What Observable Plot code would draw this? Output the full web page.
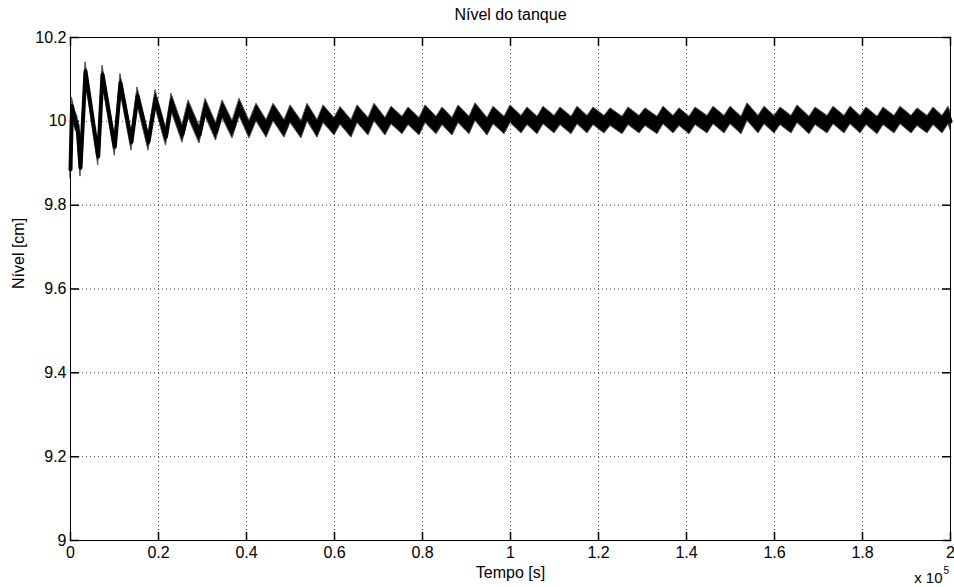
<!DOCTYPE html>
<html><head><meta charset="utf-8">
<script src="https://cdn.jsdelivr.net/npm/d3@7"></script>
<script src="https://cdn.jsdelivr.net/npm/@observablehq/plot@0.6"></script>
<style>body{margin:0;background:#fff} svg{display:block}</style>
</head><body><div id="chart"></div>
<script>
const title = "Nível do tanque";
const xLabel = "Tempo [s]";
const yLabel = "Nível [cm]";
const xExponent = "x 10";
const xExponentPower = "5";
const xTicks = [0, 20000, 40000, 60000, 80000, 100000, 120000, 140000, 160000, 180000, 200000];
const xTickLabels = ["0", "0.2", "0.4", "0.6", "0.8", "1", "1.2", "1.4", "1.6", "1.8", "2"];
const yTicks = [9, 9.2, 9.4, 9.6, 9.8, 10, 10.2];
const yTickLabels = ["9", "9.2", "9.4", "9.6", "9.8", "10", "10.2"];

// mid-level of the noisy trace (s, cm): start of the run
const startTime = [0, 340, 910, 1590];
const startLevel = [9.885, 10.036, 10.007, 9.990];
// local minima of the slow oscillation (s, cm)
const troughTime = [2270, 6300, 10070, 13860, 17730, 21700, 25450, 29320, 33070, 36820, 40680, 44550, 48640, 52500, 56140, 60000, 63860, 67730, 71590, 75450, 79320, 83180, 86820, 90680, 94770, 98640, 102500, 106140, 110000, 113860, 117500, 121360, 125450, 129320, 133410, 137050, 140680, 144770, 148640, 152500, 156360, 160000, 163860, 167950, 172050, 175910, 179550, 183410, 187270, 191140, 194770, 198180];
const troughLevel = [9.889, 9.916, 9.939, 9.951, 9.951, 9.963, 9.970, 9.968, 9.975, 9.980, 9.980, 9.982, 9.982, 9.980, 9.982, 9.987, 9.982, 9.987, 9.987, 9.990, 9.987, 9.990, 9.987, 9.990, 9.987, 9.990, 9.992, 9.990, 9.992, 9.990, 9.992, 9.992, 9.990, 9.992, 9.990, 9.992, 9.990, 9.992, 9.992, 9.990, 9.992, 9.992, 9.992, 9.990, 9.992, 9.992, 9.992, 9.990, 9.992, 9.992, 9.992, 9.992];
// local maxima of the slow oscillation (s, cm)
const peakTime = [3410, 7270, 11360, 15230, 19320, 22950, 26820, 30680, 34550, 38410, 42270, 46140, 50000, 53860, 57500, 61360, 65230, 69090, 72950, 76820, 80680, 84550, 88180, 92050, 96140, 100000, 103860, 107500, 111360, 115230, 118860, 122730, 126820, 130680, 134770, 138410, 142050, 146140, 150000, 153860, 157730, 161360, 165230, 169320, 173410, 177270, 180910, 184770, 188640, 192500, 196140, 199550];
const peakLevel = [10.120, 10.112, 10.092, 10.060, 10.053, 10.045, 10.029, 10.033, 10.029, 10.033, 10.021, 10.021, 10.017, 10.021, 10.017, 10.013, 10.017, 10.021, 10.014, 10.012, 10.017, 10.012, 10.017, 10.022, 10.014, 10.017, 10.012, 10.014, 10.012, 10.014, 10.012, 10.010, 10.012, 10.010, 10.014, 10.010, 10.012, 10.014, 10.014, 10.022, 10.014, 10.012, 10.017, 10.012, 10.014, 10.014, 10.012, 10.012, 10.014, 10.010, 10.012, 10.014];
const endTime = [200000];
const endLevel = [10.000];
// half-width of the fast noise band around the mid-level (cm)
const noiseHalfWidth = 0.021;

const series = [];
startTime.forEach((t, i) => series.push({t, v: startLevel[i]}));
troughTime.forEach((t, i) => series.push({t, v: troughLevel[i]}));
peakTime.forEach((t, i) => series.push({t, v: peakLevel[i]}));
endTime.forEach((t, i) => series.push({t, v: endLevel[i]}));
series.sort((a, b) => a.t - b.t);

const font = "Liberation Sans, Arial, Helvetica, sans-serif";
const tickShape = {draw(ctx, l) { ctx.moveTo(0, 0); ctx.lineTo(0, -l); }};
const tickLen = 8;

const chart = Plot.plot({
  width: 954,
  height: 587,
  marginLeft: 70,
  marginRight: 4,
  marginTop: 37,
  marginBottom: 47,
  style: {fontFamily: font, background: "#fff", overflow: "visible"},
  x: {domain: [0, 200000], axis: null},
  y: {domain: [9, 10.2], axis: null},
  marks: [
    Plot.ruleX(xTicks.slice(1, -1), {x: d => d, stroke: "#000", strokeOpacity: 0.75, strokeDasharray: "1,3"}),
    Plot.ruleY(yTicks.slice(1, -1), {y: d => d, stroke: "#000", strokeOpacity: 0.75, strokeDasharray: "1,3"}),
    Plot.areaY(series, {x: "t", y1: d => d.v - noiseHalfWidth, y2: d => d.v + noiseHalfWidth, fill: "#000", stroke: "#555", strokeWidth: 1}),
    Plot.line(series, {x: "t", y: "v", stroke: "#000", strokeWidth: 4, strokeLinejoin: "round"}),
    Plot.vector(xTicks, {x: d => d, y: 9, length: tickLen, rotate: 0, anchor: "start", shape: tickShape, stroke: "#000"}),
    Plot.vector(xTicks, {x: d => d, y: 10.2, length: tickLen, rotate: 180, anchor: "start", shape: tickShape, stroke: "#000"}),
    Plot.vector(yTicks, {x: 0, y: d => d, length: tickLen, rotate: 90, anchor: "start", shape: tickShape, stroke: "#000"}),
    Plot.vector(yTicks, {x: 200000, y: d => d, length: tickLen, rotate: 270, anchor: "start", shape: tickShape, stroke: "#000"}),
    Plot.frame({stroke: "#000"}),
    Plot.text(xTicks, {x: d => d, text: (d, i) => xTickLabels[i], frameAnchor: "bottom", dy: 12, lineAnchor: "middle", fontSize: 16, fill: "#000"}),
    Plot.text(yTicks, {y: d => d, text: (d, i) => yTickLabels[i], frameAnchor: "left", textAnchor: "end", dx: -4, lineAnchor: "middle", fontSize: 16, fill: "#000"}),
    Plot.text([xLabel], {frameAnchor: "bottom", dy: 32, lineAnchor: "middle", fontSize: 16, fill: "#000"}),
    Plot.text([yLabel], {frameAnchor: "left", dx: -52, rotate: -90, lineAnchor: "middle", fontSize: 16, fill: "#000"}),
    Plot.text([title], {frameAnchor: "top", dy: -23, lineAnchor: "middle", fontSize: 16, fill: "#000"}),
    Plot.text([xExponent], {frameAnchor: "bottom-right", textAnchor: "end", dx: -8, dy: 38, lineAnchor: "middle", fontSize: 15, fill: "#000"}),
    Plot.text([xExponentPower], {frameAnchor: "bottom-right", textAnchor: "start", dx: -7, dy: 30, lineAnchor: "middle", fontSize: 10, fill: "#000"})
  ]
});
document.getElementById("chart").appendChild(chart);
</script>
</body></html>
